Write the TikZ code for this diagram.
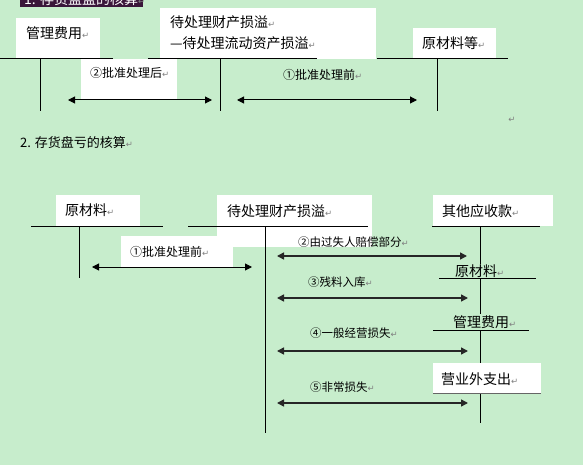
\documentclass[tikz,border=0pt]{standalone}
\usepackage{fontspec}
\setmainfont{Noto Sans CJK SC}
\newfontfamily\markfont{DejaVu Sans}
\usetikzlibrary{arrows.meta, positioning}
\definecolor{bggreen}{RGB}{199,237,204}
\definecolor{ttlbg}{RGB}{58,22,58}
\newcommand{\enter}{{\markfont\color{gray}\fontsize{8.5}{8.5}\selectfont ↵}}
\tikzset{
  txt/.style  = {inner sep=0pt, anchor=west, font=\fontsize{14}{21}\selectfont},
  lbl/.style  = {inner sep=0pt, anchor=west, font=\fontsize{12}{12}\selectfont},
  lbs/.style  = {inner sep=0pt, anchor=west, font=\fontsize{11.5}{12}\selectfont},
  sub/.style  = {txt, fill=bggreen, inner sep=1pt},
  wbox/.style = {fill=white},
  tln/.style  = {line width=1pt},
  fl/.style   = {{Triangle[length=7pt,width=7pt]}-{Triangle[length=7pt,width=7pt]},
                 line width=1pt},
  fl2/.style  = {fl, line width=1.5pt, black!85},
}
\begin{document}
\begin{tikzpicture}[x=1pt, y=-1pt]
  \useasboundingbox[fill=bggreen] (0,0) rectangle (583,465);

  % 1. inventory surplus
  \fill[ttlbg] (20,-12) rectangle (143,7);
  \node[txt, text=white] (ttl1) at (24,-1) {1. 存货盘盈的核算\enter};
  \fill[wbox] (16,18) rectangle (100,58);
  \fill[wbox] (160,8) rectangle (376,59);
  \fill[wbox] (413,28) rectangle (496,59);
  \fill[wbox] (81,59) rectangle (177,100);
  \node[txt] (glfy1) at (26,33) {管理费用\enter};
  \node[txt, align=left] (dcl1) at (170,32.5)
       {待处理财产损溢\enter\\—待处理流动资产损溢\enter};
  \node[txt] (ycl1) at (422,43) {原材料等\enter};
  \node[lbl] (pzh1) at (90,73) {②批准处理后\enter};
  \node[lbl] (pzq1) at (283,75) {①批准处理前\enter};

  \coordinate (a1l) at (0,59);   \coordinate (a1r) at (113,59);
  \coordinate (a1t) at (40,59);  \coordinate (a1b) at (40,111);
  \coordinate (a2l) at (148,59); \coordinate (a2r) at (317,59);
  \coordinate (a2t) at (220,59); \coordinate (a2b) at (220,111);
  \coordinate (a3l) at (377,59); \coordinate (a3r) at (508,59);
  \coordinate (a3t) at (437,59); \coordinate (a3b) at (437,111);
  \draw[tln] (a1l) -- (a1r); \draw[tln] (a1t) -- (a1b);
  \draw[tln] (a2l) -- (a2r); \draw[tln] (a2t) -- (a2b);
  \draw[tln] (a3l) -- (a3r); \draw[tln] (a3t) -- (a3b);

  \coordinate (p1s) at (68,100);  \coordinate (p1e) at (212,100);
  \coordinate (p2s) at (237,100); \coordinate (p2e) at (417,100);
  \draw[fl] (p1s) -- (p1e);
  \draw[fl] (p2s) -- (p2e);
  \node (pm) at (512,120) {\enter};

  % 2. inventory loss
  \node[txt, font=\fontsize{13}{13}\selectfont] (ttl2) at (20,143) {2. 存货盘亏的核算\enter};
  \coordinate (c3t) at (480,226); \coordinate (c3b) at (480,423);
  \draw[tln] (c3t) -- (c3b);
  \fill[wbox] (56,195) rectangle (140,226);
  \fill[wbox] (217,195) rectangle (372,247);
  \fill[wbox] (433,195) rectangle (553,226);
  \fill[wbox] (121,236) rectangle (233,267);
  \fill[wbox] (433,363) rectangle (541,393);
  \node[txt] (ycl2) at (65,210) {原材料\enter};
  \node[txt] (dcl2) at (227,211) {待处理财产损溢\enter};
  \node[txt] (qtys) at (442,211) {其他应收款\enter};
  \node[lbl] (pzq2) at (130,252) {①批准处理前\enter};
  \node[sub] (ycl3) at (454,271) {原材料\enter};
  \node[sub] (glfy2) at (452,322) {管理费用\enter};
  \node[txt] (yywz) at (441,379) {营业外支出\enter};

  \coordinate (c1l) at (31,226);  \coordinate (c1r) at (163,226);
  \coordinate (c1t) at (79,226);  \coordinate (c1b) at (79,278);
  \coordinate (c2l) at (188,226); \coordinate (c2r) at (368,226);
  \coordinate (c2t) at (265,226); \coordinate (c2b) at (265,433);
  \coordinate (c3l) at (432,226); \coordinate (c3r) at (540,226);
  \draw[tln] (c1l) -- (c1r); \draw[tln] (c1t) -- (c1b);
  \draw[tln] (c2l) -- (c2r); \draw[tln] (c2t) -- (c2b);
  \draw[tln] (c3l) -- (c3r);
  \coordinate (s1l) at (439,278); \coordinate (s1r) at (536,278);
  \coordinate (s2l) at (433,330); \coordinate (s2r) at (529,330);
  \coordinate (s3l) at (433,393); \coordinate (s3r) at (541,393);
  \draw[tln] (s1l) -- (s1r);
  \draw[tln] (s2l) -- (s2r);
  \draw[tln, black!60] (s3l) -- (s3r);

  \node[lbs] (pc2) at (298,242) {②由过失人赔偿部分\enter};
  \node[lbs] (cl3) at (308,282) {③残料入库\enter};
  \node[lbs] (jy4) at (310,333) {④一般经营损失\enter};
  \node[lbs] (fc5) at (310,387) {⑤非常损失\enter};
  \coordinate (q1s) at (92,267);  \coordinate (q1e) at (252,267);
  \coordinate (q2s) at (277,256); \coordinate (q2e) at (467,256);
  \coordinate (q3s) at (277,298); \coordinate (q3e) at (468,298);
  \coordinate (q4s) at (277,351); \coordinate (q4e) at (468,351);
  \coordinate (q5s) at (277,403); \coordinate (q5e) at (468,403);
  \draw[fl] (q1s) -- (q1e);
  \draw[fl2] (q2s) -- (q2e);
  \draw[fl2] (q3s) -- (q3e);
  \draw[fl2] (q4s) -- (q4e);
  \draw[fl2] (q5s) -- (q5e);
\end{tikzpicture}
\end{document}
